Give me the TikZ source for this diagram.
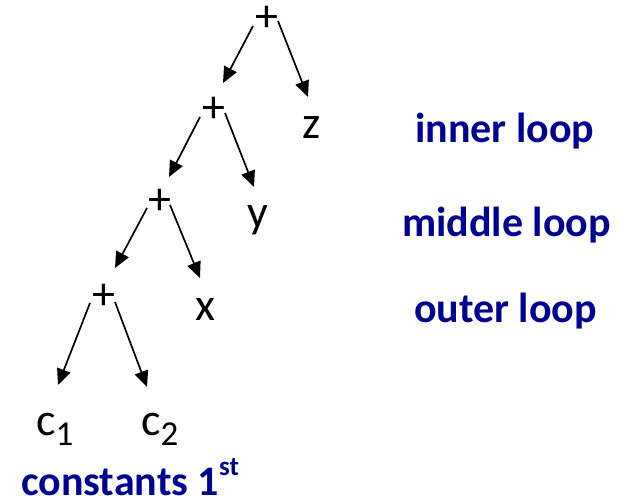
\documentclass[tikz,border=0pt]{standalone}
\usepackage{fontspec}
\setmainfont{Carlito}
\usetikzlibrary{arrows.meta,calc}
\definecolor{loopblue}{RGB}{0,0,145}
\tikzset{
  sym/.style={inner sep=0pt, font=\fontsize{46}{50}\selectfont},
  lbl/.style={inner sep=0pt, anchor=base west, text=loopblue, font=\fontsize{42}{48}\selectfont\bfseries},
  arr/.style={-{Triangle[length=16pt,width=14pt]}, line width=1.7pt}
}
\begin{document}
\begin{tikzpicture}[x=1pt,y=-1pt]
\useasboundingbox (0,0) rectangle (618,503);
\node[sym] (p1) at (267,19) {+};
\node[sym] (p2) at (214,110) {+};
\node[sym] (p3) at (160,202) {+};
\node[sym] (p4) at (104,297) {+};
\node[sym] (z) at (312,128) {z};
\node[sym] (y) at (258,220) {y};
\node[sym] (x) at (205,310) {x};
\node[sym, anchor=base west] (c1) at (36,435) {c\raisebox{-10pt}{\fontsize{35}{35}\selectfont 1}};
\node[sym, anchor=base west] (c2) at (141,435) {c\raisebox{-10pt}{\fontsize{35}{35}\selectfont 2}};
\node[lbl] (inner) at (415,142) {inner loop};
\node[lbl] (middle) at (402,236) {middle loop};
\node[lbl] (outer) at (414,322) {outer loop};
\node[lbl] (const) at (21,495) {constants 1\raisebox{20pt}{\fontsize{27}{27}\selectfont st}};
\draw[arr] ($(p1)+(-14,7)$) -- ($(p2)+(9,-27)$);
\draw[arr] ($(p1)+(11,2)$) -- ($(z)+(-4,-31)$);
\draw[arr] ($(p2)+(-14,7)$) -- ($(p3)+(9,-25)$);
\draw[arr] ($(p2)+(11,3)$) -- ($(y)+(-4,-33)$);
\draw[arr] ($(p3)+(-13,6)$) -- ($(p4)+(11,-29)$);
\draw[arr] ($(p3)+(10,3)$) -- ($(x)+(-5,-32)$);
\draw[arr] ($(p4)+(-14,6)$) -- ($(c1.base west)+(22,-50)$);
\draw[arr] ($(p4)+(11,5)$) -- ($(c2.base west)+(6,-48)$);
\end{tikzpicture}
\end{document}
